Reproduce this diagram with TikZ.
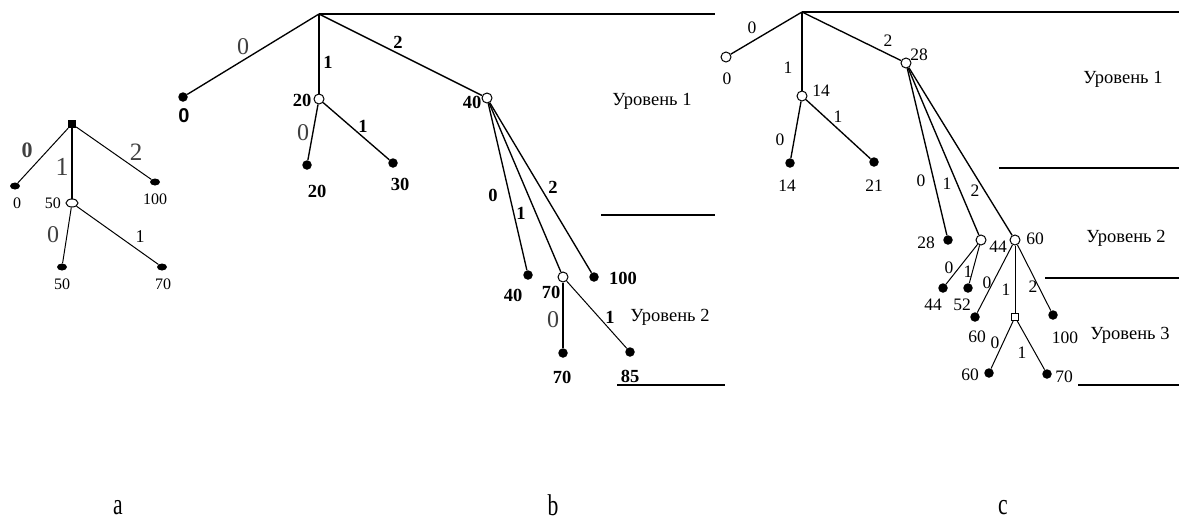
\documentclass[tikz,border=0pt]{standalone}
\usepackage{fontspec}
\setmainfont{Liberation Serif}
\newfontfamily\sansb{Liberation Sans}
\usetikzlibrary{shapes.geometric}
\tikzset{
  leaf/.style={circle,fill=black,inner sep=0pt,minimum size=9.5pt},
  aleaf/.style={ellipse,fill=black,inner sep=0pt,minimum width=10pt,minimum height=7pt},
  open/.style={circle,draw=black,fill=white,line width=1pt,inner sep=0pt,minimum size=10pt},
  aopen/.style={ellipse,draw=black,fill=white,line width=1pt,inner sep=0pt,minimum width=12pt,minimum height=8pt},
  sqopen/.style={rectangle,draw=black,fill=white,line width=1pt,inner sep=0pt,minimum size=7pt},
  sqfill/.style={rectangle,fill=black,inner sep=0pt,minimum size=8pt},
  edge/.style={line width=1.35pt},
  thin edge/.style={line width=1pt},
  lvl/.style={line width=1.3pt},
  txa/.style={font=\fontsize{16}{16}\selectfont,inner sep=0pt},
  bigl/.style={font=\fontsize{24}{24}\selectfont,inner sep=0pt,text=black!75},
  txb/.style={font=\fontsize{18.5}{18.5}\selectfont\bfseries,inner sep=0pt},
  txc/.style={font=\fontsize{17.5}{17.5}\selectfont,inner sep=0pt},
  lvltext/.style={font=\fontsize{18.5}{18.5}\selectfont,inner sep=0pt},
  captxt/.style={font=\fontsize{30}{30}\selectfont,inner sep=0pt}
}
\begin{document}
\begin{tikzpicture}[x=1pt,y=-1pt]
\useasboundingbox (0,0) rectangle (1179,520);
% ---------------- tree a ----------------
\node[sqfill] (aR) at (72,124) {};
\node[aleaf] (aL) at (15,186) {};
\node[aleaf] (aRt) at (155,182) {};
\node[aopen] (aM) at (72,203) {};
\node[aleaf] (aML) at (62,267) {};
\node[aleaf] (aMR) at (162,267) {};
\draw[thin edge] (aR) -- (aL);
\draw[thin edge] (aR) -- (aRt);
\draw[line width=2.2pt] (aR) -- (aM);
\draw[thin edge] (aM) -- (aML);
\draw[thin edge] (aM) -- (aMR);
\node[txa] (taL) at (17,203) {0};
\node[txa] (taRt) at (155,199) {100};
\node[txa] (taM) at (53,203) {50};
\node[txa] (taML) at (62,284) {50};
\node[txa] (taMR) at (163,284) {70};
\node[bigl,font=\fontsize{22}{22}\selectfont\bfseries] (ea0) at (27,150) {0};
\node[bigl,font=\fontsize{26}{26}\selectfont] (ea1) at (62,167) {1};
\node[bigl,font=\fontsize{25}{25}\selectfont] (ea2) at (136,152) {2};
\node[bigl] (ea3) at (53,235) {0};
\node[txa,font=\fontsize{18}{18}\selectfont] (ea4) at (140,237) {1};
% ---------------- tree b ----------------
\coordinate (bR) at (319,14);
\coordinate (bRe) at (715,14);
\node[leaf] (bL) at (183,97) {};
\node[open] (bA) at (319,99) {};
\node[open] (bB) at (487,98) {};
\node[leaf] (bAL) at (307,165) {};
\node[leaf] (bAR) at (393,163) {};
\node[leaf] (bB0) at (528,275) {};
\node[open] (bB1) at (563,277) {};
\node[leaf] (bB2) at (594,277) {};
\node[leaf] (bB1L) at (563,353) {};
\node[leaf] (bB1R) at (630,352) {};
\draw[edge] (bR) -- (bRe);
\draw[edge] (bR) -- (bL);
\draw[edge] (bR) -- (bA);
\draw[edge] (bR) -- (bB);
\draw[edge] (bA) -- (bAL);
\draw[edge] (bA) -- (bAR);
\draw[edge] (bB) -- (bB0);
\draw[edge] (bB) -- (bB1);
\draw[edge] (bB) -- (bB2);
\draw[edge] (bB1) -- (bB1L);
\draw[thin edge] (bB1) -- (bB1R);
\node[inner sep=0pt,font=\fontsize{20}{20}\selectfont\sansb\bfseries] (tbL) at (184,116) {0};
\node[txb] (tbA) at (302,100) {20};
\node[txb] (tbB) at (472,102) {40};
\node[txb] (tbAL) at (317,191) {20};
\node[txb] (tbAR) at (400,184) {30};
\node[txb] (tbB0) at (513,295) {40};
\node[txb] (tbB1) at (551,292) {70};
\node[txb] (tbB2) at (623,278) {100};
\node[txb] (tbB1L) at (562,377) {70};
\node[txb] (tbB1R) at (630,376) {85};
\node[bigl] (eb0) at (243,47) {0};
\node[txb] (eb1) at (328,62) {1};
\node[txb] (eb2) at (398,42) {2};
\node[bigl] (eb3) at (303,133) {0};
\node[txb] (eb4) at (363,126) {1};
\node[txb] (eb5) at (493,195) {0};
\node[txb] (eb6) at (521,213) {1};
\node[txb] (eb7) at (553,187) {2};
\node[bigl] (eb8) at (553,320) {0};
\node[txb] (eb9) at (610,317) {1};
\node[lvltext] (lb1) at (652,101) {Уровень 1};
\node[lvltext] (lb2) at (670,317) {Уровень 2};
\coordinate (lb1a) at (601,215); \coordinate (lb1b) at (715,215);
\coordinate (lb2a) at (617,385); \coordinate (lb2b) at (725,385);
\draw[lvl] (lb1a) -- (lb1b);
\draw[lvl] (lb2a) -- (lb2b);
% ---------------- tree c ----------------
\coordinate (cR) at (802,12);
\coordinate (cRe) at (1179,12);
\node[open] (c0) at (726,57) {};
\node[open] (c1) at (802,96) {};
\node[open] (c2) at (906,63) {};
\node[leaf] (c1L) at (790,163) {};
\node[leaf] (c1R) at (874,162) {};
\node[leaf] (c20) at (948,240) {};
\node[open] (c21) at (981,240) {};
\node[open] (c22) at (1015,240) {};
\node[leaf] (c21L) at (943,288) {};
\node[leaf] (c21R) at (968,288) {};
\node[leaf] (c220) at (975,317) {};
\node[sqopen] (c221) at (1015,317) {};
\node[leaf] (c222) at (1053,315) {};
\node[leaf] (c221L) at (989,373) {};
\node[leaf] (c221R) at (1047,374) {};
\draw[edge] (cR) -- (cRe);
\draw[edge] (cR) -- (c0);
\draw[edge] (cR) -- (c1);
\draw[edge] (cR) -- (c2);
\draw[edge] (c1) -- (c1L);
\draw[edge] (c1) -- (c1R);
\draw[edge] (c2) -- (c20);
\draw[edge] (c2) -- (c21);
\draw[edge] (c2) -- (c22);
\draw[thin edge] (c21) -- (c21L);
\draw[thin edge] (c21) -- (c21R);
\draw[thin edge] (c22) -- (c220);
\draw[thin edge] (c22) -- (c221);
\draw[thin edge] (c22) -- (c222);
\draw[thin edge] (c221) -- (c221L);
\draw[thin edge] (c221) -- (c221R);
\node[txc] (tc0) at (727,79) {0};
\node[txc] (tc1) at (821,91) {14};
\node[txc] (tc2) at (919,55) {28};
\node[txc] (tc1L) at (787,186) {14};
\node[txc] (tc1R) at (874,186) {21};
\node[txc] (tc20) at (926,243) {28};
\node[txc] (tc21) at (998,247) {44};
\node[txc] (tc22) at (1035,239) {60};
\node[txc] (tc21L) at (933,305) {44};
\node[txc] (tc21R) at (962,305) {52};
\node[txc] (tc220) at (977,337) {60};
\node[txc] (tc222) at (1065,338) {100};
\node[txc] (tc221L) at (970,375) {60};
\node[txc] (tc221R) at (1064,377) {70};
\node[txc] (ec0) at (752,28) {0};
\node[txc] (ec1) at (788,68) {1};
\node[txc] (ec2) at (888,41) {2};
\node[txc] (ec3) at (780,140) {0};
\node[txc] (ec4) at (838,117) {1};
\node[txc] (ec5) at (921,181) {0};
\node[txc] (ec6) at (947,184) {1};
\node[txc] (ec7) at (975,191) {2};
\node[txc] (ec8) at (949,268) {0};
\node[txc] (ec9) at (968,272) {1};
\node[txc] (ec10) at (987,283) {0};
\node[txc] (ec11) at (1006,290) {1};
\node[txc] (ec12) at (1033,287) {2};
\node[txc] (ec13) at (995,343) {0};
\node[txc] (ec14) at (1022,353) {1};
\node[lvltext] (lc1) at (1123,79) {Уровень 1};
\node[lvltext] (lc2) at (1126,238) {Уровень 2};
\node[lvltext] (lc3) at (1130,335) {Уровень 3};
\coordinate (lc1a) at (999,168); \coordinate (lc1b) at (1179,168);
\coordinate (lc2a) at (1045,278); \coordinate (lc2b) at (1179,278);
\coordinate (lc3a) at (1078,385); \coordinate (lc3b) at (1179,385);
\draw[lvl] (lc1a) -- (lc1b);
\draw[lvl] (lc2a) -- (lc2b);
\draw[lvl] (lc3a) -- (lc3b);
% ---------------- captions ----------------
\node[captxt] (capa) at (118,508) {\scalebox{0.72}[1]{a}};
\node[captxt] (capb) at (553,505) {\scalebox{0.72}[1]{b}};
\node[captxt] (capc) at (1003,508) {\scalebox{0.72}[1]{c}};
\end{tikzpicture}
\end{document}
